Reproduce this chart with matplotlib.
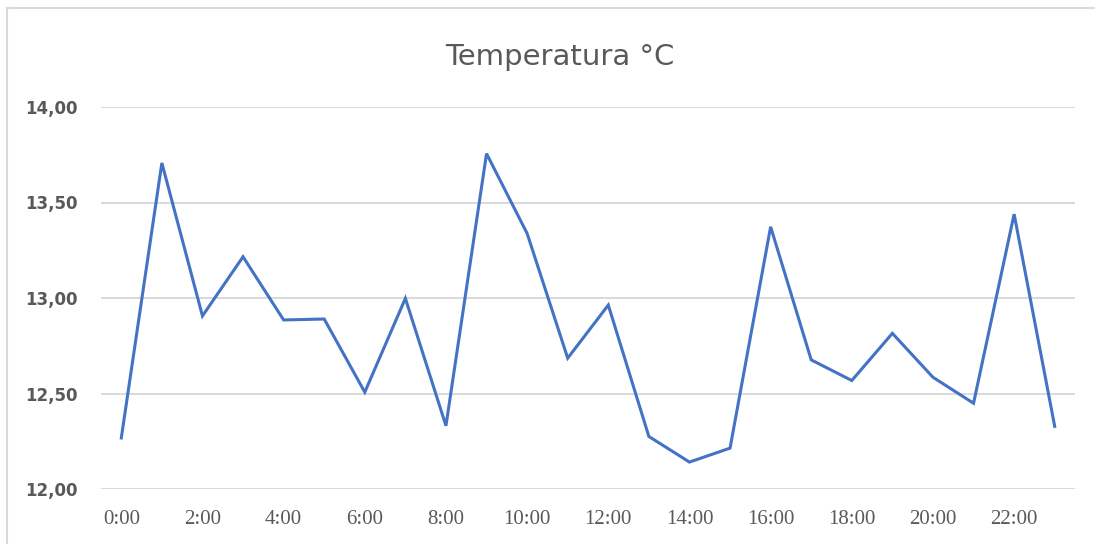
import matplotlib.pyplot as plt
from matplotlib.lines import Line2D

horas = ["%d:00" % h for h in range(24)]
temperaturas = [12.267, 13.707, 12.906, 13.216, 12.885, 12.890, 12.507, 12.998,
                12.331, 13.756, 13.338, 12.685, 12.963, 12.275, 12.141, 12.214,
                13.373, 12.676, 12.568, 12.815, 12.585, 12.449, 13.439, 12.328]
yticks = [12.0, 12.5, 13.0, 13.5, 14.0]

gris = "#595959"

fig = plt.figure(figsize=(10.95, 5.44), dpi=100)
ax = fig.add_axes([101/1095, 1 - 489/544, 974/1095, 382/544])

x = list(range(len(temperaturas)))
ax.plot(x, temperaturas, color="#4472C4", linewidth=2.2, solid_joinstyle="miter", zorder=3)

ax.set_xlim(-0.5, len(temperaturas) - 0.5)
ax.set_ylim(12, 14)
ax.set_yticks(yticks)
ax.set_yticklabels([("%.2f" % v).replace(".", ",") for v in yticks],
                   fontsize=12, fontweight="bold", color=gris, family="DejaVu Sans")
ax.set_xticks(x[::2])
ax.set_xticklabels(horas[::2], fontsize=15, color=gris, family="Liberation Serif")
ax.tick_params(axis="both", length=0)
ax.tick_params(axis="y", pad=17)
ax.tick_params(axis="x", pad=15)
ax.grid(axis="y", color="#D9D9D9", linewidth=1.4)
ax.set_axisbelow(True)
for s in ax.spines.values():
    s.set_visible(False)

fig.text(560/1095, 1 - 65/544, "Temperatura °C", ha="center", va="baseline",
         fontsize=21, color=gris, family="DejaVu Sans")

# borde del grafico (solo arriba e izquierda visibles)
fig.add_artist(Line2D([7/1095, 1], [1 - 8/544, 1 - 8/544], color="#D9D9D9", linewidth=1.5))
fig.add_artist(Line2D([7/1095, 7/1095], [0, 1 - 8/544], color="#D9D9D9", linewidth=1.5))

plt.savefig("out.png", dpi=100)
